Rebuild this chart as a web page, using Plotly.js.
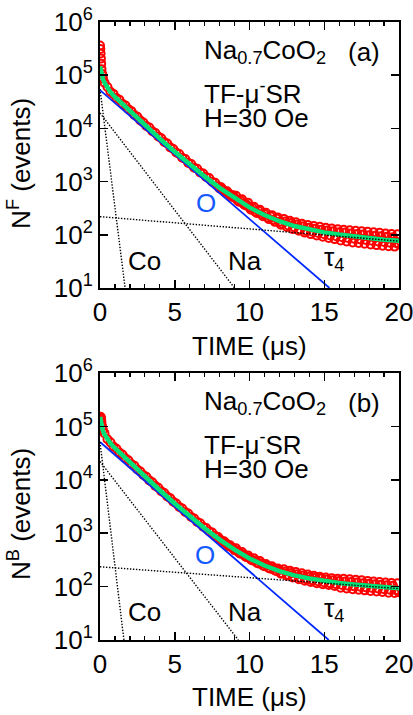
<!DOCTYPE html>
<html>
<head>
<meta charset="utf-8">
<script src="https://cdn.plot.ly/plotly-3.0.1.min.js"></script>
<style>html,body{margin:0;padding:0;background:#fff;}#chart{width:413px;height:715px;}</style>
</head>
<body>
<div id="chart"></div>
<script>
// ---------- Time bins (μs) ----------
const timeMain = [0,0.02,0.04,0.06,0.08,0.1,0.15,0.2,
 0.3,0.5,0.7,0.9,1.1,1.3,1.5,1.7,1.9,2.1,2.3,2.5,2.7,2.9,3.1,3.3,3.5,3.7,3.9,
 4.1,4.3,4.5,4.7,4.9,5.1,5.3,5.5,5.7,5.9,6.1,6.3,6.5,6.7,6.9,7.1,7.3,7.5,7.7,7.9,
 8.1,8.3,8.5,8.7,8.9,9.1,9.3,9.5,9.7,9.9,10.1,10.3,10.5,10.7,10.9,11.1,11.3,11.5,11.7,11.9,
 12.1,12.3,12.5,12.7,12.9,13.1,13.3,13.5,13.7,13.9,14.1,14.3,14.5,14.7,14.9,15.1,15.3,15.5,15.7,15.9,
 16.1,16.3,16.5,16.7,16.9,17.1,17.3,17.5,17.7,17.9,18.1,18.3,18.5,18.7,18.9,19.1,19.3,19.5,19.7,19.9,20];
const timeLate = [8.0,8.2,8.4,8.6,8.8,9.0,9.2,9.4,9.6,9.8,10.0,10.2,10.4,10.6,10.8,11.0,11.2,11.4,11.6,11.8,
 12.0,12.2,12.4,12.6,12.8,13.0,13.2,13.4,13.6,13.8,14.0,14.2,14.4,14.6,14.8,15.0,15.2,15.4,15.6,15.8,
 16.0,16.2,16.4,16.6,16.8,17.0,17.2,17.4,17.6,17.8,18.0,18.2,18.4,18.6,18.8,19.0,19.2,19.4,19.6,19.8];

// ---------- Panel (a): N^F ----------
const countsA = [360000,310000,255000,205000,165000,130000,105000,87000,
 72500,60200,49000,44500,37200,34600,29000,26900,23000,21100,17800,16600,14100,12950,11100,10350,8850,8180,7020,
 6510,5560,5190,4400,4110,3520,3290,2810,2650,2250,2130,1830,1740,1490,1420,1220,1165,990,950,815,
 780,675,655,570,552,540,418,466,360,402,296,336,258,294,223,259,197,234,175,211,
 154,199,140,184,128,172,119,162,110,153,103,146,97,141,92,136,87,131,83,127,
 78,124,75,122,72,119,70,117,68,114,66,112,64,109,62,106,61,104,60,102,66];
const countsLateA = [745,720,615,600,520,500,440,445,380,372,322,318,270,282,240,246,212,222,190,202,
 176,162,178,150,166,138,156,126,145,118,136,114,130,108,125,102,120,97,116,94,
 112,90,110,87,106,84,104,82,101,80,98,77,96,75,94,73,92,71,90,70];
const fitTimeA = [0,0.1,0.2,0.3,0.5,0.7,1,2,3,4,5,6,7,8,9,10,11,12,13,14,15,16,17,18,19,20];
const fitA = [145000,101000,83700,71900,57100,47950,38900,20900,11500,6430,3650,2110,1252,761,486,327,235,180,146,125,111,101,93,86,81,77];
const oTimeA = [0,15.35], oA = [52500,10];
const coTimeA = [0,1.68], coA = [55000,10];
const naTimeA = [0,9.0], naA = [19500,10];
const tau4TimeA = [0,20], tau4A = [219,76];

// ---------- Panel (b): N^B ----------
const countsB = [140000,150000,152000,145000,132000,118000,100000,86000,
 74800,57400,50300,42000,38100,32600,29800,25400,23200,19850,18250,15600,14350,12300,11350,9750,8970,7700,7100,
 6100,5650,4860,4510,3880,3600,3110,2900,2500,2340,2010,1890,1630,1540,1325,1250,1088,1030,893,848,
 740,709,620,596,522,520,430,446,370,384,318,340,280,300,248,266,222,241,200,219,
 174,212,160,199,148,187,137,178,129,168,122,160,116,153,111,148,107,144,103,140,
 95,140,92,137,89,134,87,131,85,128,83,125,81,122,79,119,77,117,76,115,78];
const countsLateB = [770,680,652,570,548,480,468,412,405,357,346,308,309,272,273,240,246,216,224,196,
 205,178,192,165,179,153,170,145,161,138,153,131,147,125,142,119,136,115,131,111,
 127,107,125,104,122,101,119,99,116,96,113,94,111,92,108,89,106,87,104,86];
const fitTimeB = [0,0.1,0.2,0.3,0.5,0.7,1,2,3,4,5,6,7,8,9,10,11,12,13,14,15,16,17,18,19,20];
const fitB = [150000,98600,81900,70700,56760,48140,39100,20950,11470,6375,3600,2077,1233,759,491,337,248,195,162,142,127,117,110,103,97,93];
const oTimeB = [0,15.3], oB = [51000,10];
const coTimeB = [0,1.6], coB = [51000,10];
const naTimeB = [0,9.25], naB = [22000,10];
const tau4TimeB = [0,20], tau4B = [235,92];

// ---------- Tick labels ----------
const xTickVals = [0,5,10,15,20];
const xTickText = ['0','5','10','15','20'];
const yTickVals = [10,100,1000,10000,100000,1000000];
const yTickText = ['10<sup>1</sup>','10<sup>2</sup>','10<sup>3</sup>','10<sup>4</sup>','10<sup>5</sup>','10<sup>6</sup>'];

const FONT = 'Liberation Sans, Arial, Helvetica, sans-serif';
const RED = 'rgb(255,0,0)', GREEN = 'rgb(0,226,120)', BLUE = 'rgb(0,40,255)', OBLUE = 'rgb(20,90,255)';
const MARKER = {symbol: 'circle-open', size: 8, color: RED, line: {width: 2, color: RED}};
const DOTTED = {color: 'black', width: 1.4, dash: '1.4px,1.6px'};

function panelTraces(xa, ya, n, nl, ft, f, ot, o, ct, c, nt, na, tt, ta) {
  return [
    {x: timeMain, y: n, xaxis: xa, yaxis: ya, type: 'scatter', mode: 'markers', marker: MARKER, hoverinfo: 'skip'},
    {x: timeLate, y: nl, xaxis: xa, yaxis: ya, type: 'scatter', mode: 'markers', marker: MARKER, hoverinfo: 'skip'},
    {x: ot, y: o, xaxis: xa, yaxis: ya, type: 'scatter', mode: 'lines', line: {color: BLUE, width: 1.8}},
    {x: ft, y: f, xaxis: xa, yaxis: ya, type: 'scatter', mode: 'lines', line: {color: GREEN, width: 4.5}},
    {x: ct, y: c, xaxis: xa, yaxis: ya, type: 'scatter', mode: 'lines', line: DOTTED},
    {x: nt, y: na, xaxis: xa, yaxis: ya, type: 'scatter', mode: 'lines', line: DOTTED},
    {x: tt, y: ta, xaxis: xa, yaxis: ya, type: 'scatter', mode: 'lines', line: DOTTED}
  ];
}

const data = [].concat(
  panelTraces('x','y', countsA, countsLateA, fitTimeA, fitA, oTimeA, oA, coTimeA, coA, naTimeA, naA, tau4TimeA, tau4A),
  panelTraces('x2','y2', countsB, countsLateB, fitTimeB, fitB, oTimeB, oB, coTimeB, coB, naTimeB, naB, tau4TimeB, tau4B)
);

function xAxis(anchor) {
  return {domain: [0,1], anchor: anchor, range: [0,20], tickmode: 'array', tickvals: xTickVals, ticktext: xTickText,
    ticks: 'inside', ticklen: 8, tickwidth: 1.5, tickcolor: 'black', ticklabeloverflow: 'allow',
    minor: {ticks: 'inside', dtick: 1, tick0: 0, ticklen: 4, tickwidth: 1.2, tickcolor: 'black', showgrid: false},
    showline: true, linewidth: 2, linecolor: 'black', mirror: 'ticks', showgrid: false, zeroline: false,
    tickfont: {family: FONT, size: 26, color: 'black'}, fixedrange: true};
}
function yAxis(dom, anchor) {
  return {domain: dom, anchor: anchor, type: 'log', range: [1,6], tickmode: 'array', tickvals: yTickVals, ticktext: yTickText,
    ticks: 'inside', ticklen: 8, tickwidth: 1.5, tickcolor: 'black', ticklabeloverflow: 'allow',
    showline: true, linewidth: 2, linecolor: 'black', mirror: 'ticks', showgrid: false, zeroline: false,
    tickfont: {family: FONT, size: 26, color: 'black'}, fixedrange: true};
}

const tf = {family: FONT, size: 26, color: 'black'};
function ann(text, x, y, xref, yref, opts) {
  return Object.assign({text: text, x: x, y: y, xref: xref, yref: yref, showarrow: false, font: tf,
    xanchor: 'center', yanchor: 'middle'}, opts || {});
}

const annotations = [
  // panel (a)
  ann('Na<sub>0.7</sub>CoO<sub>2</sub>', 0.341, 0.9515, 'paper', 'paper', {xanchor: 'left'}),
  ann('(a)', 0.943, 0.9515, 'paper', 'paper', {xanchor: 'right'}),
  ann('TF-μ<sup>-</sup>SR', 0.341, 0.8867, 'paper', 'paper', {xanchor: 'left'}),
  ann('H=30 Oe', 0.341, 0.8447, 'paper', 'paper', {xanchor: 'left'}),
  ann('O', 7.08, 2.6, 'x', 'y', {font: {family: FONT, size: 26, color: OBLUE}}),
  ann('Co', 2.98, 1.51, 'x', 'y'),
  ann('Na', 9.7, 1.51, 'x', 'y'),
  ann('τ<sub>4</sub>', 15.64, 1.56, 'x', 'y'),
  ann('TIME (μs)', 0.5, 0.4757, 'paper', 'paper'),
  ann('N<sup>F</sup> (events)', -0.2676, 0.772, 'paper', 'paper', {textangle: -90}),
  // panel (b)
  ann('Na<sub>0.7</sub>CoO<sub>2</sub>', 0.341, 0.3835, 'paper', 'paper', {xanchor: 'left'}),
  ann('(b)', 0.943, 0.3835, 'paper', 'paper', {xanchor: 'right'}),
  ann('TF-μ<sup>-</sup>SR', 0.341, 0.3187, 'paper', 'paper', {xanchor: 'left'}),
  ann('H=30 Oe', 0.341, 0.2767, 'paper', 'paper', {xanchor: 'left'}),
  ann('O', 7.02, 2.59, 'x2', 'y2', {font: {family: FONT, size: 26, color: OBLUE}}),
  ann('Co', 2.98, 1.52, 'x2', 'y2'),
  ann('Na', 9.72, 1.52, 'x2', 'y2'),
  ann('τ<sub>4</sub>', 15.64, 1.58, 'x2', 'y2'),
  ann('TIME (μs)', 0.5, -0.0922, 'paper', 'paper'),
  ann('N<sup>B</sup> (events)', -0.2676, 0.2039, 'paper', 'paper', {textangle: -90})
];

const layout = {
  width: 413, height: 715,
  margin: {l: 100, r: 14, t: 22, b: 75, pad: 0},
  paper_bgcolor: 'white', plot_bgcolor: 'white',
  showlegend: false,
  font: {family: FONT, size: 26, color: 'black'},
  xaxis: xAxis('y'),
  yaxis: yAxis([0.5696, 1], 'x'),
  xaxis2: xAxis('y2'),
  yaxis2: yAxis([0, 0.432], 'x2'),
  annotations: annotations
};

Plotly.newPlot('chart', data, layout, {staticPlot: true, displayModeBar: false});
</script>
</body>
</html>
